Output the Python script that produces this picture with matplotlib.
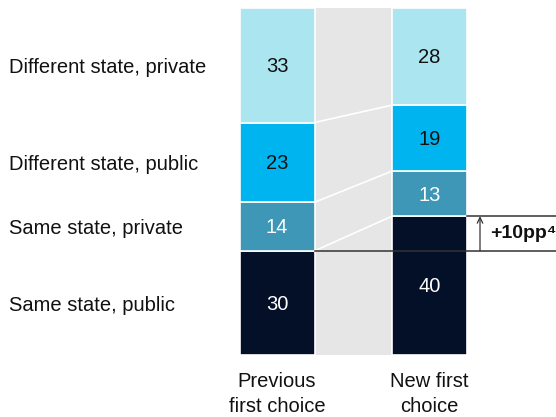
"""Stacked bar comparison: previous vs new first choice of college type."""
import matplotlib
matplotlib.use("Agg")
import matplotlib.pyplot as plt
import matplotlib.transforms as mtransforms
import numpy as np

plt.rcParams["font.family"] = ["Liberation Sans", "DejaVu Sans"]

categories = ["Same state, public", "Same state, private",
              "Different state, public", "Different state, private"]
columns = ["Previous\nfirst choice", "New first\nchoice"]
previous = [30, 14, 23, 33]
new = [40, 13, 19, 28]
change_label = "+10pp\u2074"

COLORS = ["#040F28", "#3E97B6", "#00B4EF", "#ABE5EF"]
TEXT_COLORS = ["white", "white", "#111111", "#111111"]
BAND = "#E6E6E6"
LINE = "#333333"
FS = 14.5

fig = plt.figure(figsize=(5.56, 4.17), dpi=100)
ax = fig.add_axes([0, 62 / 417, 1, 347 / 417])
px = 152.5  # pixels per x unit
ax.set_xlim(-277 / px, (556 - 277) / px)
ax.set_ylim(0, 100)
for s in ax.spines.values():
    s.set_visible(False)
ax.set_yticks([])

w = 75 / px
half = w / 2
ax.axvspan(half, 1 - half, ymin=0, ymax=1, color=BAND, lw=0, zorder=0)

for xi, vals in enumerate([previous, new]):
    bottoms = np.concatenate([[0], np.cumsum(vals)[:-1]])
    ax.bar([xi] * len(vals), vals, bottom=bottoms, width=w, color=COLORS,
           edgecolor="white", linewidth=1.2, zorder=2)
    for v, b, tc in zip(vals, bottoms, TEXT_COLORS):
        ax.text(xi, b + v / 2 - 0.4, f"{v}", ha="center", va="center",
                fontsize=FS, color=tc, zorder=3)

# connectors between segment boundaries
cl, cr = np.cumsum(previous), np.cumsum(new)
for a, b in zip(cl[:-1], cr[:-1]):
    ax.plot([half, 1 - half], [a, b], color="white", lw=1.2, zorder=1)

# change annotation
xend = ax.get_xlim()[1]
ax.plot([half, xend], [previous[0]] * 2, color=LINE, lw=1.1, zorder=4)
ax.plot([1 + half, xend], [new[0]] * 2, color=LINE, lw=1.1, zorder=4)
xa = (480 - 277) / px
ax.annotate("", xy=(xa, new[0]), xytext=(xa, previous[0]),
            arrowprops=dict(arrowstyle="->", color=LINE, lw=0.9,
                            shrinkA=0, shrinkB=0))
ax.text((490 - 277) / px, (previous[0] + new[0]) / 2, change_label,
        ha="left", va="center", fontsize=14, fontweight="bold", color="#111111")

# category labels aligned with previous-choice segments
trans = mtransforms.blended_transform_factory(fig.transFigure, ax.transData)
bl = np.concatenate([[0], cl[:-1]])
for name, v, b in zip(categories, previous, bl):
    ax.text(9 / 556, b + v / 2 - 0.6, name, transform=trans, ha="left",
            va="center", fontsize=FS, color="#111111")

ax.set_xticks([0, 1])
ax.set_xticklabels(columns, fontsize=FS, color="#111111", linespacing=1.4)
ax.tick_params(axis="x", length=0, pad=12)

fig.savefig("out.png", dpi=100)
